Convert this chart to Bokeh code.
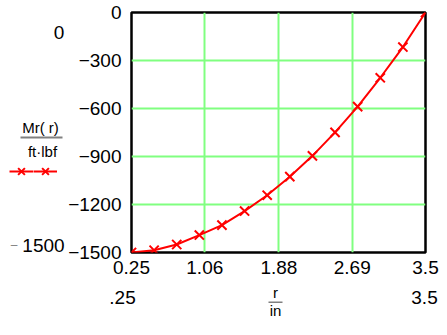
from bokeh.plotting import figure
from bokeh.models import (FixedTicker, Label, Range1d, Legend, LegendItem,
                          BoxAnnotation)
from bokeh.layouts import row, column
from bokeh.embed import file_html
from bokeh.resources import INLINE

# ---- data ----
r_vals = [0.25, 0.5, 0.75, 1.0, 1.25, 1.5, 1.75, 2.0, 2.25, 2.5, 2.75, 3.0, 3.25, 3.5]
mr_vals = [-1500, -1486, -1450, -1391, -1329, -1241, -1142, -1026, -896, -749, -588, -408, -216, 0]

x_ticks = [0.25, 1.06, 1.88, 2.69, 3.5]
x_tick_labels = ["0.25", "1.06", "1.88", "2.69", "3.5"]
y_ticks = [-1500, -1200, -900, -600, -300, 0]
y_tick_labels = ["\u22121500", "\u22121200", "\u2212900", "\u2212600", "\u2212300", "0"]

FONT = "Liberation Sans"
RED = "#ff0000"
GREEN = "#80ff80"
GREY = "#808080"

LW, TOP_H, BOT_H, TOTAL_W = 65, 283, 36, 439
FR_TOP, FR_BOT = 12, 252          # plot frame (shared by the row)

def bare(w, h, y0, y1):
    f = figure(width=w, height=h, output_backend="svg", toolbar_location=None,
               title=None, x_axis_location=None, y_axis_location=None,
               x_range=Range1d(0, w), y_range=Range1d(y1, y0),
               min_border=0, min_border_left=0, min_border_right=0,
               min_border_top=0, min_border_bottom=0)
    f.outline_line_color = None
    f.xgrid.visible = False
    f.ygrid.visible = False
    f.background_fill_color = "white"
    f.border_fill_color = "white"
    return f

def lab(f, text, x, y, size="19px", color="black"):
    f.add_layout(Label(text=text, x=x, y=y, text_font=FONT, text_font_size=size,
                       text_color=color, text_align="center", text_baseline="middle"))

def bar(f, l, r, t, b):
    f.add_layout(BoxAnnotation(left=l, right=r, top=t, bottom=b, fill_color=GREY,
                               fill_alpha=1, line_color=None))

# ---------------- main plot ----------------
p = figure(width=TOTAL_W - LW, height=TOP_H, output_backend="svg",
           toolbar_location=None, title=None,
           x_range=Range1d(0.25, 3.5), y_range=Range1d(-1500, 0),
           min_border_left=63, min_border_right=14, min_border_top=FR_TOP,
           min_border_bottom=TOP_H - FR_BOT)
p.background_fill_color = "white"
p.border_fill_color = "white"
p.outline_line_color = "black"
p.outline_line_width = 2.5

for ax in (p.xaxis[0], p.yaxis[0]):
    ax.axis_line_color = None
    ax.major_tick_line_color = None
    ax.minor_tick_line_color = None
    ax.major_tick_out = 0
    ax.major_tick_in = 0
    ax.minor_tick_out = 0
    ax.minor_tick_in = 0
    ax.major_label_text_font = FONT
    ax.major_label_text_font_size = "19px"
    ax.major_label_text_color = "black"

p.xaxis.ticker = FixedTicker(ticks=x_ticks)
p.xaxis.major_label_overrides = {t: l for t, l in zip(x_ticks, x_tick_labels)}
p.xaxis.major_label_standoff = 8
p.yaxis.ticker = FixedTicker(ticks=y_ticks)
p.yaxis.major_label_overrides = {t: l for t, l in zip(y_ticks, y_tick_labels)}
p.yaxis.major_label_standoff = 10

p.xgrid.ticker = FixedTicker(ticks=x_ticks[1:])
p.ygrid.ticker = FixedTicker(ticks=y_ticks[1:-1])
for g in (p.xgrid[0], p.ygrid[0]):
    g.grid_line_color = GREEN
    g.grid_line_width = 2
    g.grid_line_alpha = 1

p.line(r_vals, mr_vals, line_color=RED, line_width=2)
p.scatter(r_vals, mr_vals, marker="x", size=13, line_color=RED, line_width=2)

# ---------------- left strip: range limits, unit fraction, legend ----------------
# (its frame is aligned with the main plot's frame, so map it to the same rows)
L = bare(LW, TOP_H, FR_TOP, FR_BOT)
lab(L, "0", 58.5, 31.5)
lab(L, "1500", 43, 245)
lab(L, "\u2013", 13.5, 244.5, size="12px", color=GREY)
lab(L, "Mr( r)", 40, 127, size="15px")
bar(L, 20, 62, 136, 138)
lab(L, "ft\u00b7lbf", 42, 151, size="15px")

# hidden copies of the trace, used only as the legend's key glyphs
leg_line = L.line(r_vals, mr_vals, line_color=RED, line_width=2, visible=False)
leg_mark = L.scatter(r_vals, mr_vals, marker="x", size=13, line_color=RED,
                     line_width=2, visible=False)
legend = Legend(items=[LegendItem(label=" ", renderers=[leg_line, leg_mark]),
                       LegendItem(label=" ", renderers=[leg_line, leg_mark])],
                orientation="horizontal", location=(9, FR_BOT - 171 - 16),
                glyph_width=24, glyph_height=32, label_width=0, label_standoff=0,
                spacing=0, padding=0, margin=0, label_text_font_size="1px",
                border_line_alpha=0, background_fill_alpha=0,
                inactive_fill_alpha=0)
L.add_layout(legend, "center")

# ---------------- bottom strip: x range limits, unit fraction ----------------
B = bare(TOTAL_W, BOT_H, 0, BOT_H)
lab(B, ".25", 122, 14)
lab(B, "3.5", 424, 14)
lab(B, "r", 275, 9, size="15px")
bar(B, 268, 282, 18, 19.5)
lab(B, "in", 275, 27, size="15px")

layout = column(row(L, p, spacing=0), B, spacing=0)
open("out.html", "w").write(file_html(layout, INLINE))
